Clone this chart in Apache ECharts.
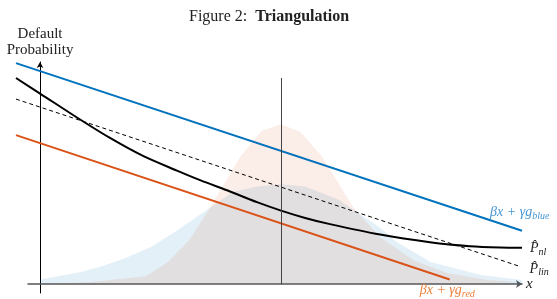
<!DOCTYPE html>
<html>
<head>
<meta charset="utf-8">
<script src="https://cdn.jsdelivr.net/npm/echarts@6/dist/echarts.min.js"></script>
<style>
  html, body { margin: 0; padding: 0; background: #fff; }
  #main { width: 557px; height: 299px; }
</style>
</head>
<body>
<div id="main"></div>
<script>
// x in units where the y axis sits at 0 and the threshold a at 1
let lineX = [-0.1, 2.0];
let blueLineY = [0.995, 0.24];
let redLineX = [-0.1, 1.7];
let redLineY = [0.671, 0.021];
let linX = [-0.1, 1.99];
let linY = [0.833, 0.08];

let nlX = [-0.1, 0, 0.166, 0.29, 0.427, 0.568, 0.664, 0.788, 0.9, 1.0, 1.1, 1.203, 1.411, 1.618, 1.784, 1.909, 2.0];
let nlY = [0.928, 0.858, 0.741, 0.658, 0.577, 0.511, 0.468, 0.417, 0.369, 0.331, 0.298, 0.27, 0.223, 0.189, 0.171, 0.165, 0.164];

let blueDensX = [0, 0.17, 0.25, 0.35, 0.46, 0.57, 0.69, 0.8, 0.9, 1.0, 1.1, 1.24, 1.34, 1.41, 1.48, 1.62, 1.83, 2.0];
let blueDensY = [0.021, 0.055, 0.078, 0.115, 0.167, 0.243, 0.333, 0.415, 0.44, 0.45, 0.44, 0.38, 0.305, 0.255, 0.19, 0.1, 0.041, 0.018];

let redDensX = [0, 0.2, 0.32, 0.44, 0.53, 0.62, 0.7, 0.83, 0.92, 1.0, 1.08, 1.17, 1.3, 1.41, 1.55, 1.69, 1.85, 2.0];
let redDensY = [0.002, 0.008, 0.022, 0.035, 0.1, 0.2, 0.335, 0.572, 0.69, 0.72, 0.685, 0.574, 0.345, 0.212, 0.108, 0.05, 0.02, 0.008];

let thresholdA = 1;
let thresholdTop = 0.928;

function pairs(xs, ys) {
  return xs.map(function (x, i) { return [x, ys[i]]; });
}

let serif = 'Liberation Serif';
let blue = 'rgb(0,114,189)';
let red = 'rgb(217,83,25)';
let blueText = 'rgb(70,150,210)';
let redText = 'rgb(235,130,60)';

function mathLabel(main, sub, color) {
  return {
    formatter: '{m|' + main + '}{s|' + sub + '}',
    rich: {
      m: { fontFamily: serif, fontStyle: 'italic', fontSize: 14, color: color, lineHeight: 17 },
      s: { fontFamily: serif, fontStyle: 'italic', fontSize: 10, color: color, verticalAlign: 'bottom', lineHeight: 11 }
    }
  };
}

let myChart = echarts.init(document.getElementById('main'));

const yMin = -0.04, yMax = 1.0;

const option = {
  animation: false,
  title: {
    text: '{n|Figure 2:  }{b|Triangulation}',
    left: 184,
    top: 4,
    textStyle: {
      fontWeight: 'normal',
      rich: {
        n: { fontFamily: serif, fontSize: 16, fontWeight: 'normal', color: '#222' },
        b: { fontFamily: serif, fontSize: 16, fontWeight: 'bold', color: '#222' }
      }
    }
  },
  grid: [
    { left: 16, right: 35, top: 62, bottom: 6, outerBoundsMode: 'none' },
    { left: 28, right: 35, top: 62, bottom: 6, outerBoundsMode: 'none' }
  ],
  xAxis: [
    {
      gridIndex: 0, type: 'value', min: -0.1, max: 2.0, show: false
    },
    {
      gridIndex: 1,
      type: 'value',
      min: -0.05,
      max: 2.0,
      name: 'x',
      nameLocation: 'end',
      nameGap: 4,
      nameTextStyle: { fontFamily: serif, fontStyle: 'italic', fontSize: 15, color: '#222', verticalAlign: 'middle', padding: [0, 0, 3, 0] },
      axisLine: {
        onZero: true,
        symbol: ['none', 'arrow'],
        symbolSize: [6, 6],
        lineStyle: { color: '#555', width: 1.5 }
      },
      axisTick: { show: false },
      splitLine: { show: false },
      axisLabel: {
        customValues: [thresholdA],
        formatter: function () { return 'a'; },
        margin: 2,
        fontFamily: serif,
        fontStyle: 'italic',
        fontSize: 14,
        color: '#333'
      }
    }
  ],
  yAxis: [
    {
      gridIndex: 0, type: 'value', min: yMin, max: yMax, show: false
    },
    {
      gridIndex: 1,
      type: 'value',
      min: yMin,
      max: yMax,
      name: 'Default\nProbability',
      nameLocation: 'end',
      nameGap: 4,
      nameTextStyle: { fontFamily: serif, fontSize: 15, color: '#222', align: 'center', lineHeight: 16 },
      axisLine: {
        onZero: true,
        symbol: ['none', 'arrow'],
        symbolSize: [5, 6],
        lineStyle: { color: '#000', width: 1 }
      },
      axisTick: { show: false },
      axisLabel: { show: false },
      splitLine: { show: false }
    }
  ],
  series: [
    {
      type: 'line',
      data: pairs(blueDensX, blueDensY),
      symbol: 'none',
      lineStyle: { width: 0 },
      areaStyle: { color: blue, opacity: 0.11 },
      z: 1
    },
    {
      type: 'line',
      data: pairs(redDensX, redDensY),
      symbol: 'none',
      lineStyle: { width: 0 },
      areaStyle: { color: red, opacity: 0.1 },
      z: 1,
      markLine: {
        symbol: 'none',
        silent: true,
        label: { show: false },
        lineStyle: { color: '#444', width: 1, type: 'solid' },
        data: [[{ coord: [thresholdA, 0] }, { coord: [thresholdA, thresholdTop] }]]
      }
    },
    {
      type: 'line',
      data: pairs(lineX, blueLineY),
      symbol: 'none',
      lineStyle: { color: blue, width: 2 },
      endLabel: Object.assign({ show: true, offset: [-40, -18] }, mathLabel('βx + γg', 'blue', blueText)),
      z: 3
    },
    {
      type: 'line',
      data: pairs(redLineX, redLineY),
      symbol: 'none',
      lineStyle: { color: red, width: 2 },
      endLabel: Object.assign({ show: true, offset: [-38, 11] }, mathLabel('βx + γg', 'red', redText)),
      z: 3
    },
    {
      type: 'line',
      data: pairs(linX, linY),
      symbol: 'none',
      lineStyle: { color: '#000', width: 1, type: [4, 3] },
      endLabel: Object.assign({ show: true, offset: [2, 3] }, mathLabel('P̂', 'lin', '#222')),
      z: 3
    },
    {
      type: 'line',
      data: pairs(nlX, nlY),
      symbol: 'none',
      smooth: 0.3,
      lineStyle: { color: '#000', width: 2 },
      endLabel: Object.assign({ show: true, offset: [0, 1] }, mathLabel('P̂', 'nl', '#222')),
      z: 4
    }
  ]
};

myChart.setOption(option);
</script>
</body>
</html>
